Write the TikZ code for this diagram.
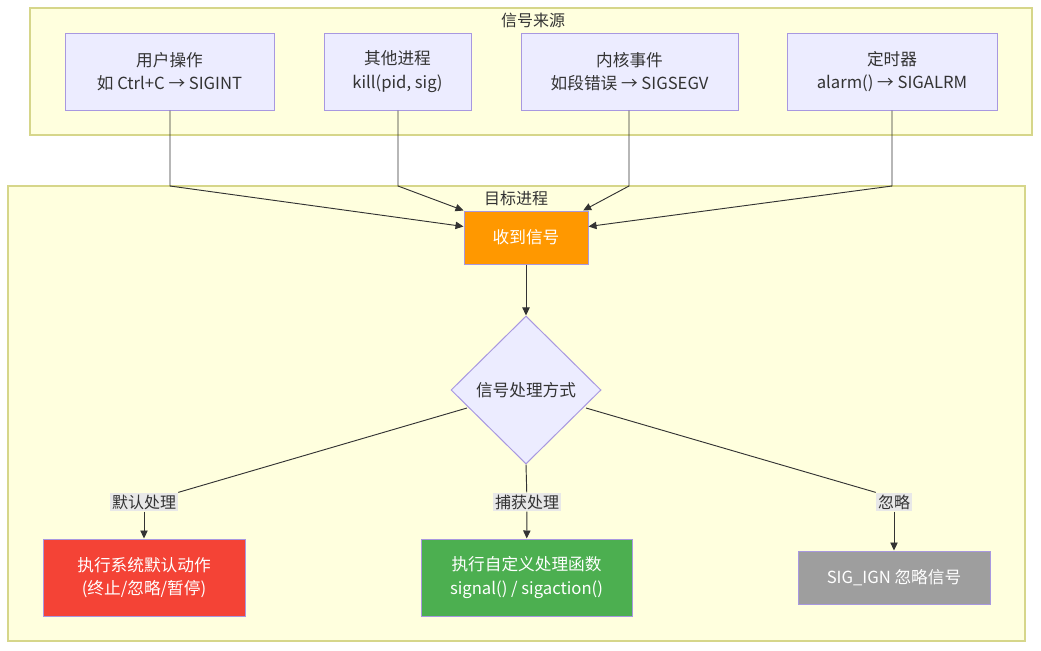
\documentclass[tikz,border=0pt]{standalone}
\usepackage{fontspec}
\setmainfont{Noto Sans CJK SC}
\usetikzlibrary{shapes.geometric,arrows.meta}
\definecolor{clfill}{HTML}{FFFFDE}
\definecolor{clstroke}{HTML}{D6D68A}
\definecolor{ndfill}{HTML}{ECECFF}
\definecolor{ndstroke}{HTML}{A898E0}
\definecolor{lnc}{HTML}{333333}
\definecolor{lblbg}{HTML}{E8E8E8}
\definecolor{orangef}{HTML}{FF9800}
\definecolor{redf}{HTML}{F44336}
\definecolor{greenf}{HTML}{4CAF50}
\definecolor{greyf}{HTML}{9E9E9E}
\definecolor{txt}{HTML}{333333}
\tikzset{
  cluster/.style={draw=clstroke, fill=clfill, line width=0.9pt},
  nodebox/.style={draw=ndstroke, fill=ndfill, line width=0.75pt, align=center, inner sep=0pt,
    text=txt, font=\fontsize{12.5}{17.5}\selectfont},
  colbox/.style={draw=ndstroke, line width=0.75pt, align=center, inner sep=0pt,
    text=white, font=\fontsize{12.5}{17.5}\selectfont},
  elabel/.style={fill=lblbg, inner sep=1.5pt, text=txt, font=\fontsize{12}{14}\selectfont},
  ctitle/.style={text=txt, font=\fontsize{12}{14}\selectfont},
  conn/.style={draw=lnc, line width=0.7pt},
  arr/.style={conn, -{Triangle[length=6pt,width=5.5pt]}}
}
\begin{document}
\begin{tikzpicture}[x=0.75pt,y=-0.75pt]
\useasboundingbox (0,0) rectangle (1041,650);
\fill[white] (0,0) rectangle (1041,650);
% clusters
\draw[cluster] (30,8) rectangle (1032,135);
\node[ctitle] (t1) at (533,20) {信号来源};
\draw[cluster] (8,186) rectangle (1025,641);
\node[ctitle] (t2) at (516,198) {目标进程};
% source nodes
\node[nodebox, minimum width=156.75pt, minimum height=57.75pt] (b1) at (169.5,71.5) {用户操作\\如 Ctrl+C → SIGINT};
\node[nodebox, minimum width=110.25pt, minimum height=57.75pt] (b2) at (397.5,71.5) {其他进程\\kill(pid, sig)};
\node[nodebox, minimum width=162.75pt, minimum height=57.75pt] (b3) at (629.5,71.5) {内核事件\\如段错误 → SIGSEGV};
\node[nodebox, minimum width=157.5pt, minimum height=57.75pt] (b4) at (892,71.5) {定时器\\alarm() → SIGALRM};
% receive
\node[colbox, fill=orangef, minimum width=93pt, minimum height=39.75pt] (recv) at (526,237.5) {收到信号};
% diamond
\node[diamond, draw=ndstroke, fill=ndfill, line width=0.75pt, inner sep=0pt, minimum width=112.5pt, minimum height=111pt,
  text=txt, font=\fontsize{12.5}{14}\selectfont] (dec) at (526,390) {信号处理方式};
% results
\node[colbox, fill=redf, minimum width=151.5pt, minimum height=57.75pt] (red) at (144,577.5) {执行系统默认动作\\(终止/忽略/暂停)};
\node[colbox, fill=greenf, minimum width=158.25pt, minimum height=57.75pt] (green) at (526.5,577.5) {执行自定义处理函数\\signal() / sigaction()};
\node[colbox, fill=greyf, minimum width=144pt, minimum height=39.75pt] (grey) at (894,577.5) {SIG\_IGN 忽略信号};
% labels
\node[elabel] (l1) at (144,502) {默认处理};
\node[elabel] (l2) at (527,502) {捕获处理};
\node[elabel] (l3) at (894,502) {忽略};
% source edges
\coordinate (k1) at (170,186);
\coordinate (k2) at (398,186);
\coordinate (k3) at (629,186);
\coordinate (k4) at (892,186);
\draw[arr] (b1.south -| k1) -- (k1) -- ([yshift=-12pt]recv.north west);
\draw[arr] (b2.south -| k2) -- (k2) -- (recv.north west);
\draw[arr] (b3.south -| k3) -- (k3) -- ([xshift=-4pt]recv.north east);
\draw[arr] (b4.south -| k4) -- (k4) -- ([yshift=-12pt]recv.north east);
% recv -> decision
\draw[arr] (recv) -- (dec);
% decision -> labels -> results
\coordinate (d1) at (467,408);
\coordinate (d3) at (586,408);
\draw[conn] (d1) -- (l1.north east);
\draw[arr] (l1) -- (red);
\draw[conn] (dec.south) -- (l2);
\draw[arr] (l2) -- (green);
\draw[conn] (d3) -- (l3.north west);
\draw[arr] (l3) -- (grey);
\end{tikzpicture}
\end{document}
